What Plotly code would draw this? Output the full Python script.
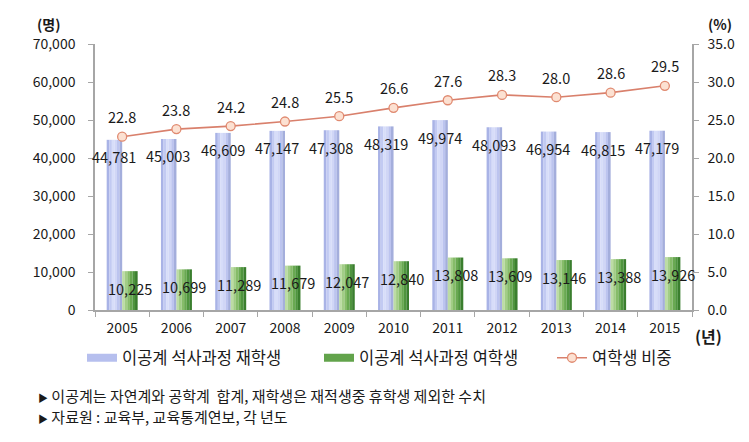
import plotly.graph_objects as go

years = ["2005", "2006", "2007", "2008", "2009", "2010", "2011", "2012", "2013", "2014", "2015"]
enrolled = [44781, 45003, 46609, 47147, 47308, 48319, 49974, 48093, 46954, 46815, 47179]
female = [10225, 10699, 11289, 11679, 12047, 12840, 13808, 13609, 13146, 13388, 13926]
ratio = [22.8, 23.8, 24.2, 24.8, 25.5, 26.6, 27.6, 28.3, 28.0, 28.6, 29.5]

left_ticks = [0, 10000, 20000, 30000, 40000, 50000, 60000, 70000]
right_ticks = [0, 5, 10, 15, 20, 25, 30, 35]

FONT = "Noto Sans CJK KR, Noto Sans, sans-serif"
TXT = "#1a1a1a"

blue_shades = ["#A9B3E6", "#C2CAF2", "#D7DDF9", "#D0D6F6", "#BCC4EF", "#A4AEDC"]
green_shades = ["#BCDCA4", "#A2CD86", "#86BC69", "#69A951", "#4F953E", "#3A7E2E"]

fig = go.Figure()

bw = 0.285
n = len(blue_shades)
sw = bw / n
for k, c in enumerate(blue_shades):
    fig.add_trace(go.Bar(
        x=years, y=enrolled, name="이공계 석사과정 재학생",
        offset=-bw + k * sw, width=sw * 1.02,
        marker=dict(color=c, line=dict(width=0)),
        showlegend=False, legendgroup="a", hoverinfo="skip",
    ))
for k, c in enumerate(green_shades):
    fig.add_trace(go.Bar(
        x=years, y=female, name="이공계 석사과정 여학생",
        offset=k * sw, width=sw * 1.02,
        marker=dict(color=c, line=dict(width=0)),
        showlegend=False, legendgroup="b", hoverinfo="skip",
    ))

# legend swatches (wide rectangles, as in the original)
fig.add_trace(go.Scatter(x=[None], y=[None], mode="lines", name="이공계 석사과정 재학생",
                         line=dict(color="#B6BFEE", width=8), legendgroup="a", legend="legend"))
fig.add_trace(go.Scatter(x=[None], y=[None], mode="lines", name="이공계 석사과정 여학생",
                         line=dict(color="#62A34B", width=8), legendgroup="b", legend="legend2"))

fig.add_trace(go.Scatter(
    x=years, y=ratio, yaxis="y2", name="여학생 비중",
    mode="lines+markers", legend="legend3",
    line=dict(color="#D9806C", width=1.6),
    marker=dict(size=9, color="#FCE1D2", line=dict(color="#E08A70", width=1.3)),
))

annotations = []
for i, v in enumerate(enrolled):
    annotations.append(dict(x=i, y=v, xref="x", yref="y", text=f"{v:,}", showarrow=False,
                            xanchor="center", yanchor="middle",
                            xshift=-8, yshift=-17, font=dict(size=14.5, color=TXT, family=FONT)))
for i, v in enumerate(female):
    annotations.append(dict(x=i, y=v, xref="x", yref="y", text=f"{v:,}", showarrow=False,
                            xanchor="center", yanchor="middle",
                            xshift=8, yshift=-17, font=dict(size=14.5, color=TXT, family=FONT)))
for i, v in enumerate(ratio):
    annotations.append(dict(x=i, y=v, xref="x", yref="y2", text=f"{v:.1f}", showarrow=False,
                            xanchor="center", yanchor="middle",
                            yshift=20, font=dict(size=14.5, color=TXT, family=FONT)))

annotations += [
    dict(x=(48 - 95) / 597, y=(310 - 24) / 266, xref="paper", yref="paper", text="<b>(명)</b>",
         xanchor="center", yanchor="middle",
         showarrow=False, font=dict(size=14, color=TXT, family=FONT)),
    dict(x=(720 - 95) / 597, y=(310 - 24) / 266, xref="paper", yref="paper", text="<b>(%)</b>",
         xanchor="center", yanchor="middle",
         showarrow=False, font=dict(size=14, color=TXT, family=FONT)),
    dict(x=(708 - 95) / 597, y=(310 - 336) / 266, xref="paper", yref="paper", text="<b>(년)</b>",
         xanchor="center", yanchor="middle",
         showarrow=False, font=dict(size=16, color=TXT, family=FONT)),
    dict(x=(36 - 95) / 597, y=(310 - 395) / 266, xref="paper", yref="paper", xanchor="left",
         yanchor="middle",
         text="<span style='font-size:10px'>▶</span> 이공계는 자연계와 공학계  합계, 재학생은 재적생중 휴학생 제외한 수치",
         showarrow=False, font=dict(size=15, color=TXT, family=FONT)),
    dict(x=(36 - 95) / 597, y=(310 - 416) / 266, xref="paper", yref="paper", xanchor="left",
         yanchor="middle",
         text="<span style='font-size:10px'>▶</span> 자료원 : 교육부, 교육통계연보, 각 년도",
         showarrow=False, font=dict(size=15, color=TXT, family=FONT)),
]

axis_line = "#A6A6A6"
leg_y = (310 - 358) / 266
leg_common = dict(orientation="h", y=leg_y, xanchor="left", yanchor="middle",
                  font=dict(size=16.5, color=TXT, family=FONT), bgcolor="rgba(0,0,0,0)",
                  itemwidth=30)
fig.update_layout(
    width=749, height=442,
    margin=dict(l=95, r=57, t=44, b=132),
    paper_bgcolor="white", plot_bgcolor="white",
    barmode="overlay",
    font=dict(family=FONT, size=14, color=TXT),
    xaxis=dict(type="category", showgrid=False, showline=True, linecolor=axis_line, linewidth=1.5,
               ticks="outside", tickson="boundaries", ticklen=5, tickcolor=axis_line,
               ticklabelstandoff=4,
               tickfont=dict(size=14, color=TXT), range=[-0.5, 10.5]),
    yaxis=dict(range=[0, 70000], tickvals=left_ticks, ticktext=[f"{t:,}" for t in left_ticks],
               showgrid=False, zeroline=False, showline=True, linecolor=axis_line, linewidth=1.5,
               ticks="outside", ticklen=5, tickcolor=axis_line, ticklabelstandoff=10,
               tickfont=dict(size=14, color=TXT)),
    yaxis2=dict(range=[0, 35], tickvals=right_ticks, ticktext=[f"{t:.1f}" for t in right_ticks],
                overlaying="y", side="right", showgrid=False, zeroline=False, showline=True,
                linecolor=axis_line, linewidth=1.5, ticks="outside", ticklen=5, tickcolor=axis_line,
                ticklabelstandoff=6, tickfont=dict(size=14, color=TXT)),
    legend=dict(x=(82 - 95) / 597, **leg_common),
    legend2=dict(x=(319 - 95) / 597, **leg_common),
    legend3=dict(x=(552 - 95) / 597, **leg_common),
    annotations=annotations,
    showlegend=True,
)

fig.write_html("out.html")
